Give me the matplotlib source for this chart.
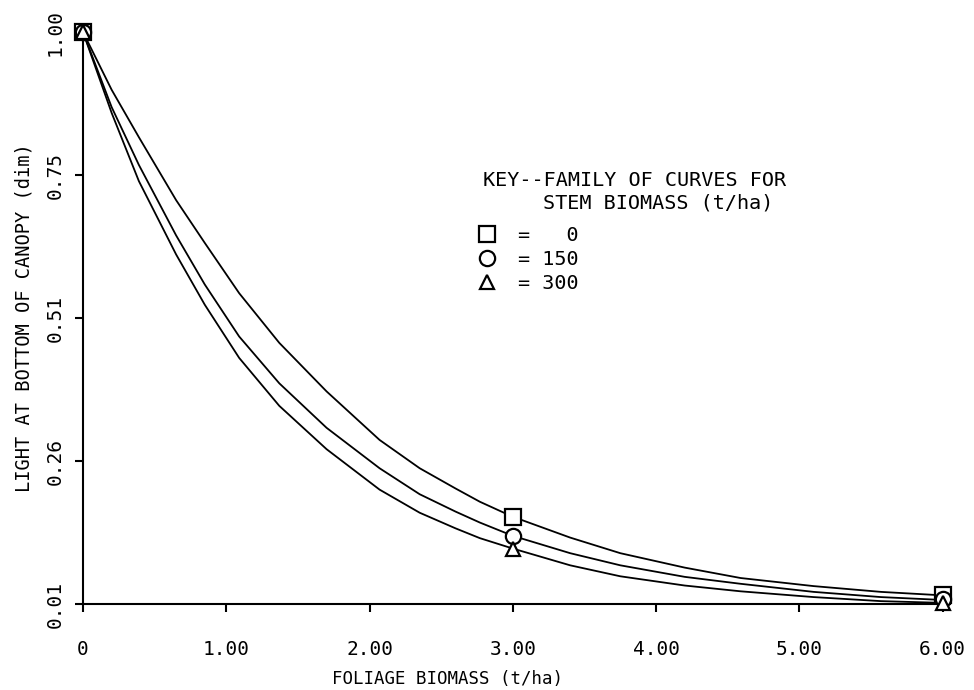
import matplotlib
matplotlib.use("Agg")
import matplotlib.pyplot as plt
from matplotlib.lines import Line2D

x_curve = [0, 0.2, 0.39, 0.65, 0.85, 1.09, 1.37, 1.7, 2.07, 2.35, 2.6, 2.77, 3.0,
           3.4, 3.75, 4.2, 4.59, 5.1, 5.57, 6.0]
# light at bottom of canopy, one curve per stem biomass
y_stem0 = [1.00, 0.90, 0.818, 0.709, 0.635, 0.548, 0.462, 0.378, 0.294, 0.245, 0.210, 0.187, 0.161,
           0.125, 0.098, 0.073, 0.055, 0.041, 0.031, 0.025]
y_stem150 = [1.00, 0.87, 0.770, 0.648, 0.563, 0.473, 0.392, 0.315, 0.245, 0.200, 0.170, 0.151, 0.128,
             0.098, 0.077, 0.057, 0.045, 0.031, 0.022, 0.017]
y_stem300 = [1.00, 0.86, 0.742, 0.615, 0.528, 0.436, 0.353, 0.278, 0.208, 0.168, 0.141, 0.124, 0.106,
             0.077, 0.058, 0.042, 0.032, 0.022, 0.015, 0.012]

# the plotted symbols (only at 0, 3 and 6 t/ha)
x_mark = [0, 3, 6]
m_stem0 = [1.00, 0.161, 0.025]
m_stem150 = [1.00, 0.128, 0.018]
m_stem300 = [1.00, 0.106, 0.012]

x_ticks = [0, 1, 2, 3, 4, 5, 6]
x_labels = ["0", "1.00", "2.00", "3.00", "4.00", "5.00", "6.00"]
y_ticks = [0.01, 0.2575, 0.505, 0.7525, 1.00]
y_labels = ["0.01", "0.26", "0.51", "0.75", "1.00"]
key_labels = ["=   0", "= 150", "= 300"]

plt.rcParams["font.family"] = "DejaVu Sans Mono"
plt.rcParams["font.size"] = 13

fig = plt.figure(figsize=(9.74, 6.9), dpi=100)
ax = fig.add_axes([0.0852, 0.1246, 0.890, 0.829])

ax.plot(x_curve, y_stem0, color="black", lw=1.3)
ax.plot(x_curve, y_stem150, color="black", lw=1.3)
ax.plot(x_curve, y_stem300, color="black", lw=1.3)

mk = dict(ls="none", mfc="white", mec="black", mew=1.6, clip_on=False, zorder=5)
ax.plot(x_mark, m_stem0, marker="s", ms=11, **mk)
ax.plot(x_mark, m_stem150, marker="o", ms=11, **mk)
ax.plot(x_mark, m_stem300, marker="^", ms=10, **mk)

ax.set_xlim(0, 6.05)
ax.set_ylim(0.01, 1.00)
ax.spines["top"].set_visible(False)
ax.spines["right"].set_visible(False)
ax.spines["left"].set_linewidth(1.5)
ax.spines["bottom"].set_linewidth(1.5)

ax.set_xticks(x_ticks)
ax.set_xticklabels(x_labels, fontsize=14)
ax.set_yticks(y_ticks)
ax.set_yticklabels(y_labels, rotation=90, va="center", fontsize=14)
ax.tick_params(axis="x", direction="out", length=6, width=1.5, pad=20)
ax.tick_params(axis="y", direction="out", length=6, width=1.5, pad=7)

ax.set_xlabel("FOLIAGE BIOMASS (t/ha)", x=0.42, labelpad=8, fontsize=12.5)
ax.set_ylabel("LIGHT AT BOTTOM OF CANOPY (dim)", labelpad=9, fontsize=13.5)

# key
ax.text(0.461, 0.741, "KEY--FAMILY OF CURVES FOR", transform=ax.transAxes,
        va="center", ha="left", fontsize=14.5)
ax.text(0.531, 0.701, "STEM BIOMASS (t/ha)", transform=ax.transAxes,
        va="center", ha="left", fontsize=14.5)
handles = [
    Line2D([], [], ls="none", marker="s", ms=11, mfc="white", mec="black", mew=1.6),
    Line2D([], [], ls="none", marker="o", ms=11, mfc="white", mec="black", mew=1.6),
    Line2D([], [], ls="none", marker="^", ms=10, mfc="white", mec="black", mew=1.6),
]
ax.legend(handles, key_labels, loc="upper left", bbox_to_anchor=(0.455, 0.660),
          frameon=False, handlelength=1.0, handletextpad=1.0, labelspacing=0.23,
          borderpad=0, borderaxespad=0, prop={"size": 14.5})

fig.savefig("out.png", dpi=100)
